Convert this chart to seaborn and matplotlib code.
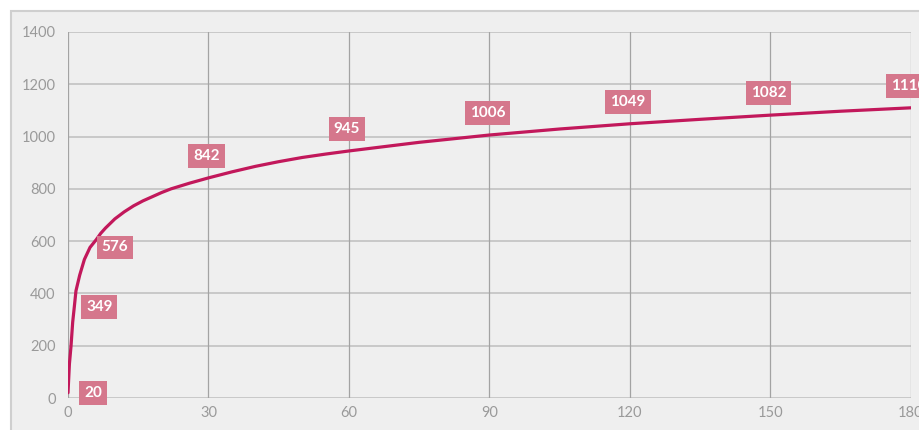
import matplotlib
matplotlib.use("Agg")
import matplotlib.pyplot as plt
from matplotlib.patches import Rectangle
import pandas as pd
import seaborn as sns

# curve values
curve_x = [0, 0.3, 0.65, 1, 1.35, 1.7, 2.5, 3.5, 4.7, 6, 7, 8, 10, 12, 14, 16, 18, 20, 22, 26,
           30, 35, 40, 45, 50, 55, 60, 75, 90, 105, 120, 135, 150, 165, 180]
curve_y = [20, 130, 200, 290, 349, 410, 470, 530, 576, 605, 630, 650, 685, 712, 735, 754, 770, 786, 800, 822,
           842, 865, 886, 904, 920, 933, 945, 978, 1006, 1029, 1049, 1066, 1082, 1097, 1110]

# labelled points
label_x = [0, 1.35, 4.7, 30, 60, 90, 120, 150, 180]
label_y = [20, 349, 576, 842, 945, 1006, 1049, 1082, 1110]

x_ticks = [0, 30, 60, 90, 120, 150, 180]
y_ticks = [0, 200, 400, 600, 800, 1000, 1200, 1400]

BG = "#efefef"
LINE = "#c2185b"
BOX = "#d5778c"

sns.set_style("whitegrid", {"axes.facecolor": BG})
plt.rcParams["font.family"] = ["Lato", "DejaVu Sans"]

fig = plt.figure(figsize=(9.2, 4.3), dpi=100)
fig.patch.set_facecolor("white")

# card behind the chart
card = fig.add_axes([0, 0, 1, 1], zorder=-5)
card.axis("off")
card.set_xlim(0, 920)
card.set_ylim(430, 0)
card.add_patch(Rectangle((11, 11), 1000, 1000, facecolor=BG,
                         edgecolor="#cfcfcf", linewidth=1.5))

ax = fig.add_axes([68 / 920, 32 / 430, (911 - 68) / 920, (398 - 32) / 430], zorder=1)
ax.set_facecolor(BG)

df = pd.DataFrame({"x": curve_x, "y": curve_y})
sns.lineplot(data=df, x="x", y="y", ax=ax, color=LINE, linewidth=2.3, zorder=3)

ax.set_xlim(0, 180)
ax.set_ylim(0, 1400)
ax.set_xticks(x_ticks)
ax.set_yticks(y_ticks)
ax.set_xlabel("")
ax.set_ylabel("")

ax.grid(False)
for v in y_ticks:
    ax.axhline(v, color="#c6c6c6", linewidth=1.3, zorder=1)
for v in x_ticks:
    ax.axvline(v, color="#a3a3a3", linewidth=0.9, zorder=1)
for s in ax.spines.values():
    s.set_visible(False)

ax.tick_params(axis="y", length=6, width=1.2, color="#c6c6c6", labelsize=10.5,
               labelcolor="#9a9a9a", pad=3)
ax.tick_params(axis="x", length=0, labelsize=10.5, labelcolor="#9a9a9a", pad=6)

for i, (lx, ly) in enumerate(zip(label_x, label_y)):
    if i < 3:
        off = (25, 0)
    else:
        off = (-2, 22)
    ax.annotate(str(ly), (lx, ly), xytext=off, textcoords="offset pixels",
                ha="center", va="center", color="white", fontsize=11,
                fontweight="bold", zorder=5, annotation_clip=False,
                bbox=dict(boxstyle="square,pad=0.32", facecolor=BOX, edgecolor="none"))

fig.savefig("out.png", dpi=100, facecolor=fig.get_facecolor())
